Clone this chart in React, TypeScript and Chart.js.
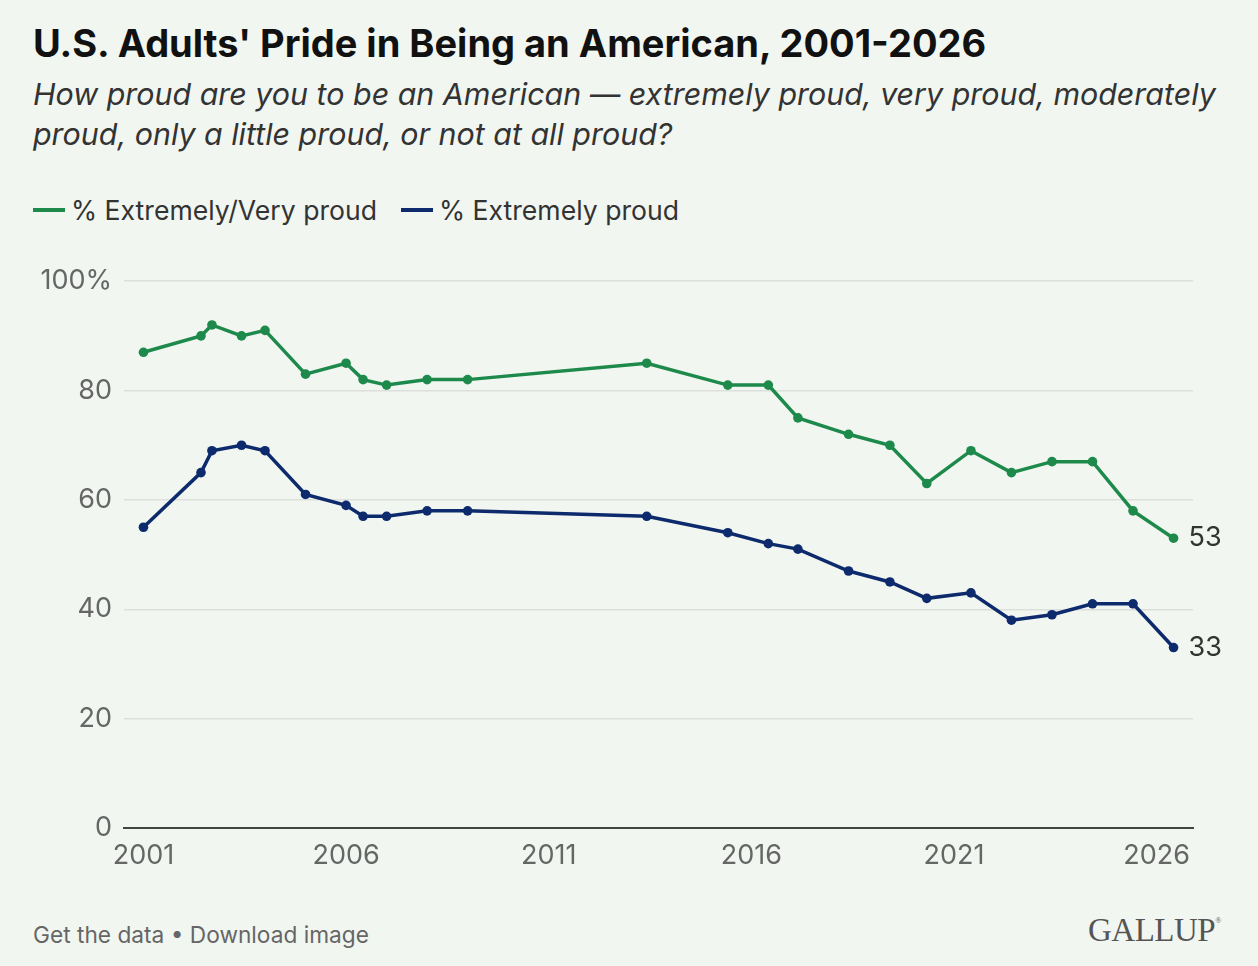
import React, { useEffect, useRef } from "react";
import { Chart, registerables } from "chart.js";

Chart.register(...registerables);

const surveyYears = [
  2001.0, 2002.42, 2002.69, 2003.42, 2004.0, 2005.0, 2006.0, 2006.42, 2007.0, 2008.0, 2009.0,
  2013.42, 2015.42, 2016.42, 2017.15, 2018.4, 2019.42, 2020.33, 2021.42, 2022.42, 2023.42,
  2024.42, 2025.42, 2026.42,
];
const extremelyVeryProud = [
  87, 90, 92, 90, 91, 83, 85, 82, 81, 82, 82, 85, 81, 81, 75, 72, 70, 63, 69, 65, 67, 67, 58, 53,
];
const extremelyProud = [
  55, 65, 69, 70, 69, 61, 59, 57, 57, 58, 58, 57, 54, 52, 51, 47, 45, 42, 43, 38, 39, 41, 41, 33,
];
const xTickYears = [2001, 2006, 2011, 2016, 2021, 2026];
const yTickValues = [0, 20, 40, 60, 80, 100];
const seriesLabels = ["% Extremely/Very proud", "% Extremely proud"];

const GREEN = "#1d8a4b";
const NAVY = "#0d2a6c";
const BG = "#f1f6f1";
const FONT = "Inter, 'Noto Sans', sans-serif";

const endLabelPlugin = {
  id: "endLabels",
  afterDatasetsDraw(chart: any) {
    const ctx = chart.ctx;
    ctx.save();
    ctx.font = `400 27px ${FONT}`;
    ctx.fillStyle = "#333333";
    ctx.textAlign = "left";
    ctx.textBaseline = "middle";
    chart.data.datasets.forEach((ds: any, i: number) => {
      const meta = chart.getDatasetMeta(i);
      const last = meta.data[meta.data.length - 1];
      const v = ds.data[ds.data.length - 1].y;
      ctx.fillText(String(v), last.x + 15, last.y);
    });
    ctx.restore();
  },
};

export default function App() {
  const canvasRef = useRef<HTMLCanvasElement | null>(null);

  useEffect(() => {
    if (!canvasRef.current) return;
    const toPoints = (vals: number[]) => surveyYears.map((x, i) => ({ x, y: vals[i] }));
    const chart = new Chart(canvasRef.current, {
      type: "line",
      data: {
        datasets: [
          {
            label: seriesLabels[0],
            data: toPoints(extremelyVeryProud),
            borderColor: GREEN,
            backgroundColor: GREEN,
            borderWidth: 3.5,
            pointRadius: 4.8,
            pointBorderWidth: 0,
            tension: 0,
          },
          {
            label: seriesLabels[1],
            data: toPoints(extremelyProud),
            borderColor: NAVY,
            backgroundColor: NAVY,
            borderWidth: 3.5,
            pointRadius: 4.8,
            pointBorderWidth: 0,
            tension: 0,
          },
        ],
      },
      options: {
        animation: false,
        responsive: false,
        maintainAspectRatio: false,
        layout: { padding: { left: 0, right: 65, top: 20, bottom: 0 } },
        plugins: {
          legend: { display: false },
          tooltip: { enabled: false },
          title: { display: false },
        },
        scales: {
          x: {
            type: "linear",
            min: 2000.52,
            max: 2026.9,
            afterBuildTicks: (scale: any) => {
              scale.ticks = xTickYears.map((v) => ({ value: v }));
            },
            afterFit: (scale: any) => {
              scale.height = 72;
            },
            grid: { display: false, drawTicks: false },
            border: { display: true, color: "#444444", width: 2 },
            ticks: {
              color: "#666666",
              font: { family: FONT, size: 27 },
              padding: 12,
              maxRotation: 0,
              autoSkip: false,
              callback: (v: any) => String(v),
            },
          },
          y: {
            min: 0,
            max: 100,
            afterBuildTicks: (scale: any) => {
              scale.ticks = yTickValues.map((v) => ({ value: v }));
            },
            afterFit: (scale: any) => {
              scale.width = 124;
            },
            grid: { color: "#dcdfdc", lineWidth: 1.5, drawTicks: false },
            border: { display: false },
            ticks: {
              color: "#666666",
              font: { family: FONT, size: 27 },
              padding: 12,
              callback: (v: any) => (v === 100 ? "100%" : String(v)),
            },
          },
        },
      },
      plugins: [endLabelPlugin],
    } as any);
    return () => chart.destroy();
  }, []);

  const legendItem = (color: string, label: string, ml: number) => (
    <div style={{ display: "flex", alignItems: "center", marginLeft: ml }}>
      <div style={{ width: 32, height: 4, background: color, marginRight: 6 }} />
      <span>{label}</span>
    </div>
  );

  return (
    <div
      style={{
        position: "absolute",
        left: 0,
        top: 0,
        width: 1258,
        height: 966,
        background: BG,
        fontFamily: FONT,
        overflow: "hidden",
      }}
    >
      <div
        style={{
          position: "absolute",
          left: 33,
          top: 20,
          fontSize: 38,
          fontWeight: 700,
          color: "#111111",
          letterSpacing: 0,
          whiteSpace: "nowrap",
        }}
      >
        U.S. Adults' Pride in Being an American, 2001-2026
      </div>
      <div
        style={{
          position: "absolute",
          left: 33,
          top: 74,
          width: 1220,
          fontSize: 30.4,
          fontStyle: "italic",
          color: "#333333",
          lineHeight: "40px",
          letterSpacing: 0,
          whiteSpace: "nowrap",
        }}
      >
        How proud are you to be an American — extremely proud, very proud, moderately
        <br />
        proud, only a little proud, or not at all proud?
      </div>
      <div
        style={{
          position: "absolute",
          left: 33,
          top: 194,
          display: "flex",
          fontSize: 26.6,
          color: "#333333",
          whiteSpace: "nowrap",
        }}
      >
        {legendItem(GREEN, seriesLabels[0], 0)}
        {legendItem(NAVY, seriesLabels[1], 24)}
      </div>
      <canvas
        ref={canvasRef}
        width={1258}
        height={647}
        style={{ position: "absolute", left: 0, top: 253, width: 1258, height: 647 }}
      />
      <div
        style={{
          position: "absolute",
          left: 33,
          top: 921,
          fontSize: 22.7,
          color: "#666666",
          whiteSpace: "nowrap",
        }}
      >
        Get the data • Download image
      </div>
      <div
        style={{
          position: "absolute",
          left: 1088,
          top: 912,
          fontSize: 33,
          fontFamily: "'Liberation Serif', 'DejaVu Serif', serif",
          color: "#555555",
          whiteSpace: "nowrap",
          letterSpacing: -0.5,
        }}
      >
        GALLUP<sup style={{ fontSize: 8, verticalAlign: "top", position: "relative", top: 4 }}>®</sup>
      </div>
    </div>
  );
}
